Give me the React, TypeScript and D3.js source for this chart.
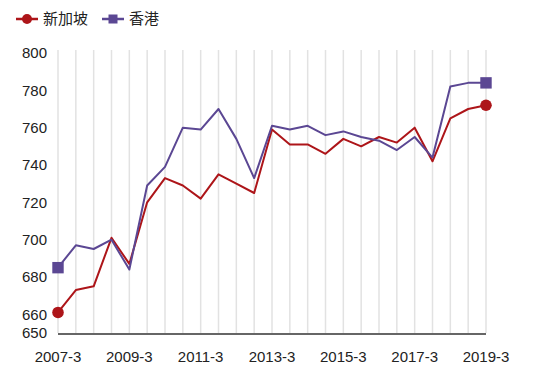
import React from 'react'
import * as d3 from 'd3'

// half-year periods
const periods = [
  '2007-3', '2007-9', '2008-3', '2008-9', '2009-3', '2009-9', '2010-3', '2010-9',
  '2011-3', '2011-9', '2012-3', '2012-9', '2013-3', '2013-9', '2014-3', '2014-9',
  '2015-3', '2015-9', '2016-3', '2016-9', '2017-3', '2017-9', '2018-3', '2018-9', '2019-3',
]
const singapore = [
  661, 673, 675, 701, 687, 720, 733, 729, 722, 735, 730, 725, 759, 751, 751, 746,
  754, 750, 755, 752, 760, 742, 765, 770, 772,
]
const hongkong = [
  685, 697, 695, 700, 684, 729, 739, 760, 759, 770, 754, 733, 761, 759, 761, 756,
  758, 755, 753, 748, 755, 744, 782, 784, 784,
]
const xTickLabels = ['2007-3', '2009-3', '2011-3', '2013-3', '2015-3', '2017-3', '2019-3']
const yTicks = [650, 660, 680, 700, 720, 740, 760, 780, 800]

const width = 547
const height = 369
const RED = '#ad1519'
const PURPLE = '#5b4793'
const font = '"Liberation Sans", Arial, Helvetica, sans-serif'

const App = () => {
  const x = d3.scalePoint<string>().domain(periods).range([58, 486])
  const y = d3.scaleLinear().domain([650, 800]).range([333, 53])

  const line = d3
    .line<number>()
    .x((_, i) => x(periods[i]) as number)
    .y((d) => y(d))

  const last = periods.length - 1

  return (
    <div style={{ position: 'absolute', left: 0, top: 0 }}>
      <svg width={width} height={height} style={{ display: 'block', background: '#fff' }}>
        {/* vertical grid */}
        {periods.map((p) => (
          <line
            key={p}
            x1={x(p)}
            x2={x(p)}
            y1={50}
            y2={y(650)}
            stroke="#e2e2e2"
            strokeWidth={1.5}
          />
        ))}

        {/* y labels */}
        {yTicks.map((t) => (
          <text
            key={t}
            x={47}
            y={y(t)}
            dy="0.35em"
            textAnchor="end"
            fontFamily={font}
            fontSize={15}
            fill="#222"
          >
            {t}
          </text>
        ))}

        {/* x axis */}
        <line x1={x(periods[0])} x2={x(periods[last])} y1={334} y2={334} stroke="#333" strokeWidth={1.6} />
        {xTickLabels.map((t) => (
          <text
            key={t}
            x={x(t)}
            y={357}
            dy="0.35em"
            textAnchor="middle"
            fontFamily={font}
            fontSize={15}
            fill="#222"
          >
            {t}
          </text>
        ))}

        {/* series */}
        <path d={line(singapore) || ''} fill="none" stroke={RED} strokeWidth={2} strokeLinejoin="round" />
        <path d={line(hongkong) || ''} fill="none" stroke={PURPLE} strokeWidth={2} strokeLinejoin="round" />

        {/* end markers */}
        {[0, last].map((i) => (
          <g key={i}>
            <circle cx={x(periods[i])} cy={y(singapore[i])} r={5.8} fill={RED} />
            <rect x={(x(periods[i]) as number) - 5.7} y={y(hongkong[i]) - 5.7} width={11.4} height={11.4} fill={PURPLE} />
          </g>
        ))}

        {/* legend */}
        <g transform="translate(0,19)">
          <line x1={16} x2={38} y1={0} y2={0} stroke={RED} strokeWidth={2.5} />
          <circle cx={27} cy={0} r={5} fill={RED} />
          <text x={43} y={0} dy="0.35em" fontFamily='"Noto Sans CJK SC", sans-serif' fontSize={15} fill="#222">
            新加坡
          </text>
          <line x1={102} x2={124} y1={0} y2={0} stroke={PURPLE} strokeWidth={2.5} />
          <rect x={108.5} y={-4.5} width={9} height={9} fill={PURPLE} />
          <text x={129} y={0} dy="0.35em" fontFamily='"Noto Sans CJK SC", sans-serif' fontSize={15} fill="#222">
            香港
          </text>
        </g>
      </svg>
    </div>
  )
}

export default App
